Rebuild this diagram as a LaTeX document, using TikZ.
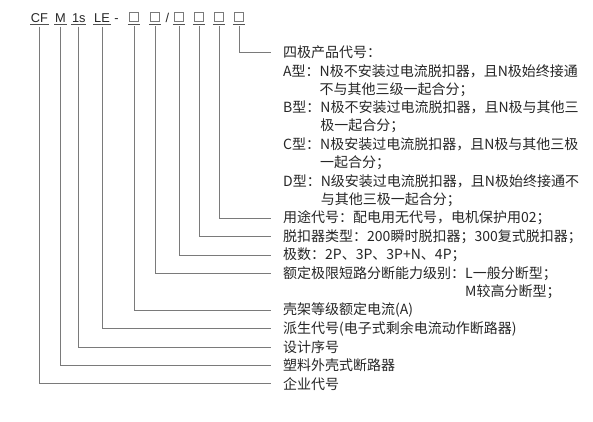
\documentclass[tikz,border=0pt]{standalone}
\usepackage{fontspec}
\newfontfamily\cjk{Noto Sans CJK SC}
\newfontfamily\lat{Liberation Sans}
\definecolor{txt}{HTML}{262626}
\definecolor{ln}{HTML}{7A7A7A}
\begin{document}
\begin{tikzpicture}[x=1pt,y=-1pt,
  lbl/.style={anchor=west,inner sep=0pt,text=txt,font=\cjk\fontsize{14}{14}\selectfont},
  code/.style={anchor=base,inner xsep=0.6pt,inner ysep=0pt,text=txt,font=\lat\fontsize{12.8}{13}\selectfont},
  cbox/.style={draw=ln,line width=0.6pt,minimum size=8.5pt,inner sep=0pt,anchor=south},
  uline/.style={draw=txt!80,line width=0.6pt},
  conn/.style={draw=ln,line width=0.7pt}]
\useasboundingbox (0,0) rectangle (593,421);
% code row
\node[code] (cf) at (39.5,22.5) {CF};
\node[code] (m) at (60.5,22.5) {M};
\node[code] (os) at (78.8,22.5) {1s};
\node[code] (le) at (102,22.5) {LE};
\node[code] (dash) at (116.5,22.5) {-};
\node[code] (sl) at (167.5,22.5) {/};
\node[cbox] (b1) at (134,21.5) {};
\node[cbox] (b2) at (155,21.5) {};
\node[cbox] (b3) at (179,21.5) {};
\node[cbox] (b4) at (199,21.5) {};
\node[cbox] (b5) at (219,21.5) {};
\node[cbox] (b6) at (239,21.5) {};
\foreach \n in {cf,m,os,le}{
  \draw[uline] ([yshift=-2pt]\n.base west) -- ([yshift=-2pt]\n.base east);}
\foreach \n in {b1,b2,b3,b4,b5,b6}{
  \draw[uline] ([xshift=-1.5pt,yshift=-2.5pt]\n.south west) -- ([xshift=1.5pt,yshift=-2.5pt]\n.south east);}
% labels
\node[lbl] (t0) at (283,52.5) {四极产品代号：};
\node[lbl] (t1) at (283,70.9) {A型：N极不安装过电流脱扣器，且N极始终接通};
\node[lbl] (t2) at (283,89.3) {\hphantom{A型：}不与其他三级一起合分；};
\node[lbl] (t3) at (283,107.7) {B型：N极不安装过电流脱扣器，且N极与其他三};
\node[lbl] (t4) at (283,126.1) {\hphantom{B型：}极一起合分；};
\node[lbl] (t5) at (283,144.5) {C型：N极安装过电流脱扣器，且N极与其他三极};
\node[lbl] (t6) at (283,162.9) {\hphantom{C型：}一起合分；};
\node[lbl] (t7) at (283,181.3) {D型：N级安装过电流脱扣器，且N极始终接通不};
\node[lbl] (t8) at (283,199.7) {\hphantom{D型：}与其他三极一起合分；};
\node[lbl] (t9) at (283,218.1) {用途代号：配电用无代号，电机保护用02；};
\node[lbl] (t10) at (283,236.5) {脱扣器类型：200瞬时脱扣器；300复式脱扣器；};
\node[lbl] (t11) at (283,254.9) {极数：2P、3P、3P+N、4P；};
\node[lbl] (t12) at (283,273.3) {额定极限短路分断能力级别：L一般分断型；};
\node[lbl] (t13) at (283,291.7) {\hphantom{额定极限短路分断能力级别：}M较高分断型；};
\node[lbl] (t14) at (283,310.1) {壳架等级额定电流(A)};
\node[lbl] (t15) at (283,328.5) {派生代号(电子式剩余电流动作断路器)};
\node[lbl] (t16) at (283,346.9) {设计序号};
\node[lbl] (t17) at (283,365.3) {塑料外壳式断路器};
\node[lbl] (t18) at (283,383.7) {企业代号};
% connectors
\foreach \a/\b in {b6/t0,b5/t9,b4/t10,b3/t11,b2/t12,b1/t14}{
  \draw[conn] ([yshift=-4.5pt]\a.south) |- ([xshift=-12pt]\b.west);}
\foreach \a/\b in {le/t15,os/t16,m/t17,cf/t18}{
  \draw[conn] ([yshift=-4pt]\a.base) |- ([xshift=-12pt]\b.west);}
\end{tikzpicture}
\end{document}
